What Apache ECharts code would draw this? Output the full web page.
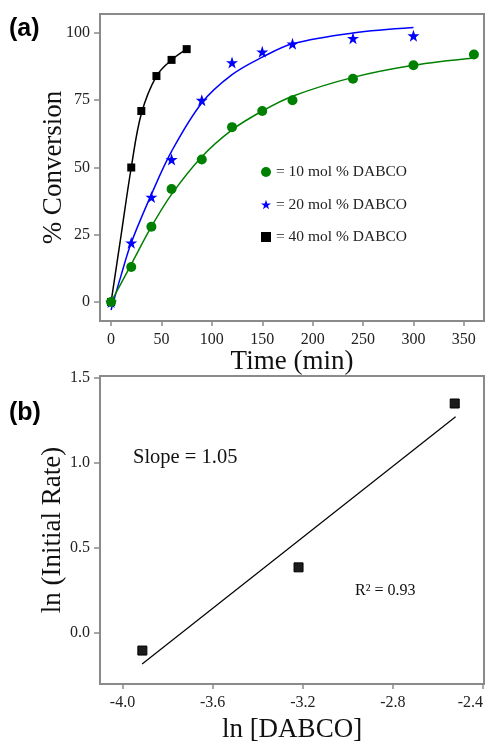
<!DOCTYPE html>
<html>
<head>
<meta charset="utf-8">
<script src="https://cdn.jsdelivr.net/npm/echarts@6/dist/echarts.min.js"></script>
<style>
  html, body { margin: 0; padding: 0; background: #fff; }
  #main { width: 487px; height: 741px; }
</style>
</head>
<body>
<div id="main"></div>
<script>
// (a) conversion vs time, three catalyst loadings
var timeLow = [0, 20, 40, 60, 90, 120, 150, 180, 240, 300, 360];
var convLow = [0, 13, 28, 42, 53, 65, 71, 75, 83, 88, 92];
var timeMid = [0, 20, 40, 60, 90, 120, 150, 180, 240, 300];
var convMid = [0, 22, 39, 53, 75, 89, 93, 96, 98, 99];
var timeHigh = [0, 20, 30, 45, 60, 75];
var convHigh = [0, 50, 71, 84, 90, 94];

// fitted curves
var fitLowT = [0, 20, 40, 60, 90, 120, 150, 180, 240, 300, 360];
var fitLowV = [0, 14, 28, 40, 54, 64, 71, 76.5, 83.5, 88, 90.7];
var fitMidT = [0, 10, 20, 40, 60, 90, 120, 150, 180, 240, 300];
var fitMidV = [-3, 10, 22, 40, 56, 74, 84.5, 91, 96, 100, 102];
var fitHighT = [0, 10, 20, 30, 45, 60, 75];
var fitHighV = [0, 25, 50, 70, 84, 90, 94];

var seriesNames = ['10 mol % DABCO', '20 mol % DABCO', '40 mol % DABCO'];
var timeTicks = [0, 50, 100, 150, 200, 250, 300, 350];
var convTicks = [0, 25, 50, 75, 100];

// (b) log-log plot
var lnDabco = [-3.912, -3.219, -2.526];
var lnRate = [-0.105, 0.385, 1.35];
var fitLnX = [-3.913, -2.522];
var fitLnY = [-0.184, 1.272];
var lnDabcoTicks = [-4.0, -3.6, -3.2, -2.8, -2.4];
var lnRateTicks = [0, 0.5, 1.0, 1.5];

var starPath = 'path://M50,0 L61.8,35.1 L98.1,35.1 L68.8,56.7 L79.4,91 L50,70 L20.6,91 L31.2,56.7 L1.9,35.1 L38.2,35.1 Z';
var serif = 'Liberation Serif';
var frameColor = '#8a8a8a';

function zip(xs, ys) {
    var out = [];
    for (var i = 0; i < xs.length; i++) out.push([xs[i], ys[i]]);
    return out;
}

function makeAxis(opts) {
    return Object.assign({
        type: 'value',
        nameLocation: 'middle',
        nameMoveOverlap: false,
        nameTextStyle: { fontFamily: serif, fontSize: 27, color: '#111' },
        axisLine: { show: true, onZero: false, lineStyle: { color: frameColor, width: 2 } },
        splitLine: { show: false }
    }, opts);
}

function ticks(values, len) {
    return { show: true, length: len, customValues: values, lineStyle: { color: frameColor, width: 1.5 } };
}

function labels(values, margin, fmt) {
    var l = { fontFamily: serif, fontSize: 16, color: '#222', margin: margin, customValues: values };
    if (fmt) l.formatter = function (v) { return v.toFixed(1); };
    return l;
}

var chart = echarts.init(document.getElementById('main'), null, { renderer: 'canvas' });

var lnDabcoLabels = labels(lnDabcoTicks, 11, true);
lnDabcoLabels.alignMaxLabel = 'right';

var option = {
    animation: false,
    backgroundColor: '#fff',
    grid: [
        { left: 100, right: 3, top: 14, height: 307, show: true, borderColor: frameColor, borderWidth: 2, outerBoundsMode: 'none', containLabel: false },
        { left: 100, right: 3, top: 376, height: 308, show: true, borderColor: frameColor, borderWidth: 2, outerBoundsMode: 'none', containLabel: false }
    ],
    xAxis: [
        makeAxis({
            gridIndex: 0, min: -11, max: 370, name: 'Time (min)', nameGap: 27,
            axisTick: ticks(timeTicks, 5), axisLabel: labels(timeTicks, 11)
        }),
        makeAxis({
            gridIndex: 1, min: -4.1, max: -2.396, name: 'ln [DABCO]', nameGap: 32,
            axisTick: ticks(lnDabcoTicks, 5), axisLabel: lnDabcoLabels
        })
    ],
    yAxis: [
        makeAxis({
            gridIndex: 0, min: -7.06, max: 107.06, name: '% Conversion', nameGap: 33,
            axisTick: ticks(convTicks, 6), axisLabel: labels(convTicks, 10)
        }),
        makeAxis({
            gridIndex: 1, min: -0.302, max: 1.512, name: 'ln (Initial Rate)', nameGap: 34,
            axisTick: ticks(lnRateTicks, 6), axisLabel: labels(lnRateTicks, 10, true)
        })
    ],
    legend: {
        data: [
            { name: seriesNames[0], icon: 'circle' },
            { name: seriesNames[1], icon: starPath },
            { name: seriesNames[2], icon: 'rect' }
        ],
        orient: 'vertical',
        left: 261,
        top: 164,
        padding: 0,
        itemWidth: 10,
        itemHeight: 10,
        itemGap: 16.5,
        formatter: function (name) { return '= ' + name; },
        textStyle: { fontFamily: serif, fontSize: 15.5, lineHeight: 16, color: '#222' }
    },
    series: [
        // fitted curves
        {
            type: 'line', name: 'fit40', xAxisIndex: 0, yAxisIndex: 0, data: zip(fitHighT, fitHighV),
            smooth: 0.35, showSymbol: false, silent: true,
            lineStyle: { color: '#000', width: 1.5 }
        },
        {
            type: 'line', name: 'fit20', xAxisIndex: 0, yAxisIndex: 0, data: zip(fitMidT, fitMidV),
            smooth: 0.35, showSymbol: false, silent: true,
            lineStyle: { color: '#0000ff', width: 1.5 }
        },
        {
            type: 'line', name: 'fit10', xAxisIndex: 0, yAxisIndex: 0, data: zip(fitLowT, fitLowV),
            smooth: 0.35, showSymbol: false, silent: true,
            lineStyle: { color: '#008000', width: 1.5 }
        },
        // measured points
        {
            type: 'scatter', name: seriesNames[2], xAxisIndex: 0, yAxisIndex: 0, data: zip(timeHigh, convHigh),
            symbol: 'rect', symbolSize: 8, itemStyle: { color: '#000', opacity: 1 }, z: 3
        },
        {
            type: 'scatter', name: seriesNames[1], xAxisIndex: 0, yAxisIndex: 0, data: zip(timeMid, convMid),
            symbol: starPath, symbolSize: 12, itemStyle: { color: '#0000ff', opacity: 1 }, z: 4
        },
        {
            type: 'scatter', name: seriesNames[0], xAxisIndex: 0, yAxisIndex: 0, data: zip(timeLow, convLow),
            symbol: 'circle', symbolSize: 10, itemStyle: { color: '#008000', opacity: 1 }, z: 5
        },
        // (b)
        {
            type: 'line', name: 'lnFit', xAxisIndex: 1, yAxisIndex: 1, data: zip(fitLnX, fitLnY),
            showSymbol: false, silent: true, lineStyle: { color: '#000', width: 1.2 }
        },
        {
            type: 'scatter', name: 'lnRate', xAxisIndex: 1, yAxisIndex: 1, data: zip(lnDabco, lnRate),
            symbol: 'rect', symbolSize: 9,
            itemStyle: { color: '#1c1c1c', borderColor: '#000', borderWidth: 1, opacity: 1 }
        }
    ],
    graphic: [
        { type: 'text', left: 9, top: 17, style: { text: '(a)', font: 'bold 25px "Liberation Sans"', fill: '#000' } },
        { type: 'text', left: 9, top: 401, style: { text: '(b)', font: 'bold 25px "Liberation Sans"', fill: '#000' } },
        { type: 'text', left: 133, top: 447, style: { text: 'Slope = 1.05', font: '20.5px "Liberation Serif"', fill: '#111' } },
        { type: 'text', left: 355, top: 583, style: { text: 'R\u00b2 = 0.93', font: '16px "Liberation Serif"', fill: '#111' } }
    ]
};

chart.setOption(option);
</script>
</body>
</html>
